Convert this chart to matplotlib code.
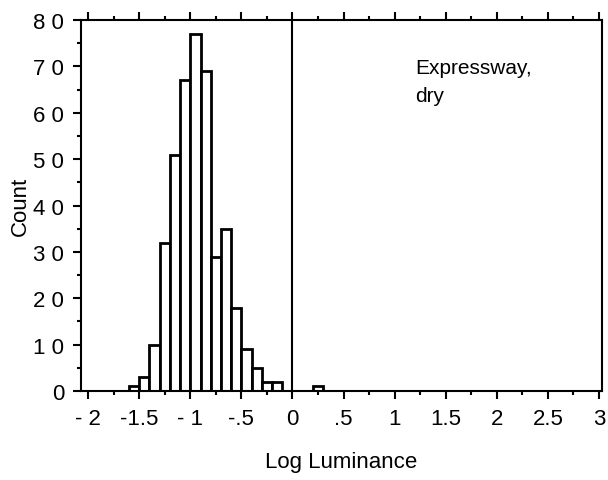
import numpy as np
import matplotlib
matplotlib.use('Agg')
import matplotlib.pyplot as plt
from matplotlib.ticker import MultipleLocator

plt.rcParams['font.family'] = ['Liberation Sans', 'DejaVu Sans']

# histogram of log luminance, bins 0.1 wide (left edges)
bin_lefts = [-1.6, -1.5, -1.4, -1.3, -1.2, -1.1, -1.0, -0.9, -0.8,
             -0.7, -0.6, -0.5, -0.4, -0.3, -0.2, 0.2]
counts = [1, 3, 10, 32, 51, 67, 77, 69, 29, 35, 18, 9, 5, 2, 2, 1]
bin_width = 0.1

x_ticks = [-2, -1.5, -1, -0.5, 0, 0.5, 1, 1.5, 2, 2.5, 3]
x_labels = ['- 2', '-1.5', '- 1', '-.5', '0', '.5', '1', '1.5', '2', '2.5', '3']
y_ticks = [0, 10, 20, 30, 40, 50, 60, 70, 80]
y_labels = ['0', '1 0', '2 0', '3 0', '4 0', '5 0', '6 0', '7 0', '8 0']

fig = plt.figure(figsize=(6.08, 4.81), dpi=100)
ax = fig.add_axes([0.1332, 0.185, 0.857, 0.7713])

ax.bar(bin_lefts, counts, width=bin_width, align='edge',
       facecolor='white', edgecolor='black', linewidth=2, zorder=2)
ax.axvline(0, color='black', linewidth=1.5, zorder=3)

ax.set_xlim(-2.07, 3.03)
ax.set_ylim(0, 80)

ax.set_xticks(x_ticks)
ax.set_xticklabels(x_labels)
ax.set_yticks(y_ticks)
ax.set_yticklabels(y_labels)
ax.xaxis.set_minor_locator(MultipleLocator(0.25))
ax.yaxis.set_minor_locator(MultipleLocator(5))

ax.tick_params(which='both', direction='out', width=1.5, labelsize=16,
               top=True, right=False, labeltop=False)
ax.tick_params(which='major', length=6, pad=6)
ax.tick_params(which='minor', length=3)

for s in ax.spines.values():
    s.set_linewidth(1.5)

ax.set_xlabel('Log Luminance', fontsize=16, labelpad=16)
ax.set_ylabel('Count', fontsize=16, labelpad=2)

ax.text(1.2, 68.5, 'Expressway,', fontsize=15, va='baseline', ha='left')
ax.text(1.2, 62.5, 'dry', fontsize=15, va='baseline', ha='left')

fig.savefig('out.png', dpi=100)
